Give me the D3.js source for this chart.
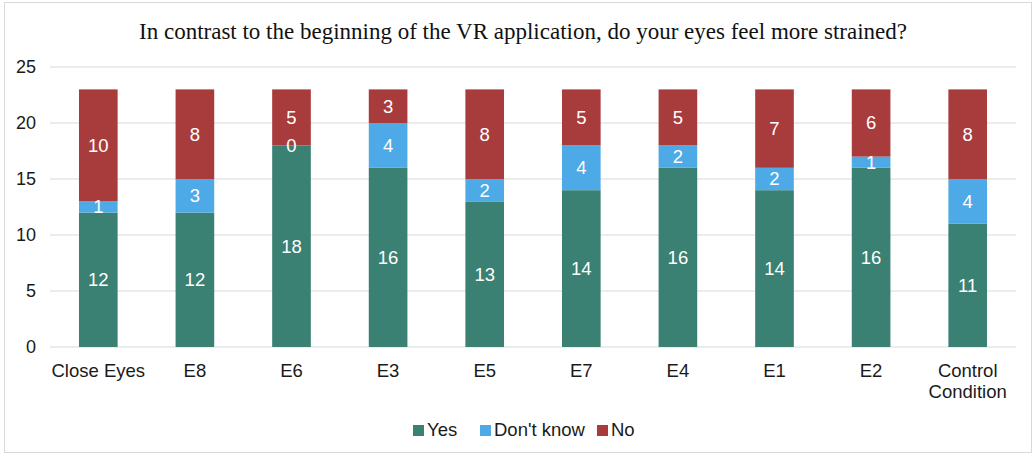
<!DOCTYPE html>
<html>
<head>
<meta charset="utf-8">
<script src="https://cdn.jsdelivr.net/npm/d3@7"></script>
<style>
  body { margin: 0; background: #fff; }
  svg { display: block; }
</style>
</head>
<body>
<svg id="chart" width="1036" height="455"></svg>
<script>
// chart data
const categories = ['Close Eyes', 'E8', 'E6', 'E3', 'E5', 'E7', 'E4', 'E1', 'E2', 'Control Condition'];
const yesValues = [12, 12, 18, 16, 13, 14, 16, 14, 16, 11];
const dontKnowValues = [1, 3, 0, 4, 2, 4, 2, 2, 1, 4];
const noValues = [10, 8, 5, 3, 8, 5, 5, 7, 6, 8];
const yTicks = [0, 5, 10, 15, 20, 25];
const seriesNames = ['Yes', "Don't know", 'No'];
const seriesColors = ['#3a8073', '#4eaae6', '#a83b3c'];
const title = 'In contrast to the beginning of the VR application, do your eyes feel more strained?';

const svg = d3.select('#chart');
const width = 1036, height = 455;
const margin = { left: 50, right: 20, top: 67, bottom: 108 };
const sans = 'Liberation Sans, Arial, sans-serif';

// outer frame
svg.append('rect')
    .attr('x', 4.5).attr('y', 2.5)
    .attr('width', width - 9).attr('height', height - 5)
    .attr('fill', '#fff')
    .attr('stroke', '#d9d9d9');

const x = d3.scaleBand()
    .domain(categories)
    .range([margin.left, width - margin.right])
    .paddingInner(0.6)
    .paddingOuter(0.3);

const y = d3.scaleLinear()
    .domain([0, 25])
    .range([height - margin.bottom, margin.top]);

// gridlines
svg.append('g')
    .selectAll('line')
    .data(yTicks)
    .join('line')
    .attr('x1', margin.left)
    .attr('x2', width - margin.right)
    .attr('y1', d => y(d))
    .attr('y2', d => y(d))
    .attr('stroke', '#d9d9d9')
    .attr('stroke-width', 1);

// y tick labels
svg.append('g')
    .selectAll('text')
    .data(yTicks)
    .join('text')
    .attr('x', 36)
    .attr('y', d => y(d))
    .attr('dy', '0.35em')
    .attr('text-anchor', 'end')
    .attr('font-family', sans)
    .attr('font-size', 18)
    .attr('fill', '#1a1a1a')
    .text(d => d);

// stack the series
const table = categories.map((c, i) => ({
    category: c,
    'Yes': yesValues[i],
    "Don't know": dontKnowValues[i],
    'No': noValues[i]
}));
const stacked = d3.stack().keys(seriesNames)(table);

svg.append('g')
    .selectAll('g')
    .data(stacked)
    .join('g')
    .attr('fill', (d, i) => seriesColors[i])
    .selectAll('rect')
    .data(d => d)
    .join('rect')
    .attr('x', d => x(d.data.category))
    .attr('width', x.bandwidth())
    .attr('y', d => y(d[1]))
    .attr('height', d => y(d[0]) - y(d[1]));

// value labels go on top of every bar segment, so a zero still shows
const labelData = stacked.flatMap(layer => layer.map(v => ({ v, key: layer.key })));
svg.append('g')
    .selectAll('text')
    .data(labelData)
    .join('text')
    .attr('x', d => x(d.v.data.category) + x.bandwidth() / 2)
    .attr('y', d => y((d.v[0] + d.v[1]) / 2))
    .attr('dy', '0.35em')
    .attr('text-anchor', 'middle')
    .attr('font-family', sans)
    .attr('font-size', 18.5)
    .attr('fill', '#fff')
    .text(d => d.v.data[d.key]);

// x category labels, wrapped on spaces for the long one
const xLabels = svg.append('g')
    .selectAll('text')
    .data(categories)
    .join('text')
    .attr('x', d => x(d) + x.bandwidth() / 2)
    .attr('y', 377)
    .attr('text-anchor', 'middle')
    .attr('font-family', sans)
    .attr('font-size', 18.5)
    .attr('fill', '#1a1a1a');

xLabels.each(function (d) {
    const lines = d === 'Control Condition' ? d.split(' ') : [d];
    const t = d3.select(this);
    lines.forEach((line, i) => {
        t.append('tspan')
            .attr('x', x(d) + x.bandwidth() / 2)
            .attr('dy', i === 0 ? 0 : 21)
            .text(line);
    });
});

// title
svg.append('text')
    .attr('x', 523)
    .attr('y', 39)
    .attr('text-anchor', 'middle')
    .attr('font-family', 'Liberation Serif, Times New Roman, serif')
    .attr('font-size', 23)
    .attr('fill', '#111')
    .text(title);

// legend
const legendX = [413, 480, 597];
const legend = svg.append('g')
    .selectAll('g')
    .data(seriesNames)
    .join('g')
    .attr('transform', (d, i) => `translate(${legendX[i]},430)`);

legend.append('rect')
    .attr('x', 0).attr('y', -5)
    .attr('width', 11).attr('height', 11)
    .attr('fill', (d, i) => seriesColors[i]);

legend.append('text')
    .attr('x', 14)
    .attr('y', 0)
    .attr('dy', '0.35em')
    .attr('font-family', sans)
    .attr('font-size', 18.5)
    .attr('fill', '#1a1a1a')
    .text(d => d);
</script>
</body>
</html>
